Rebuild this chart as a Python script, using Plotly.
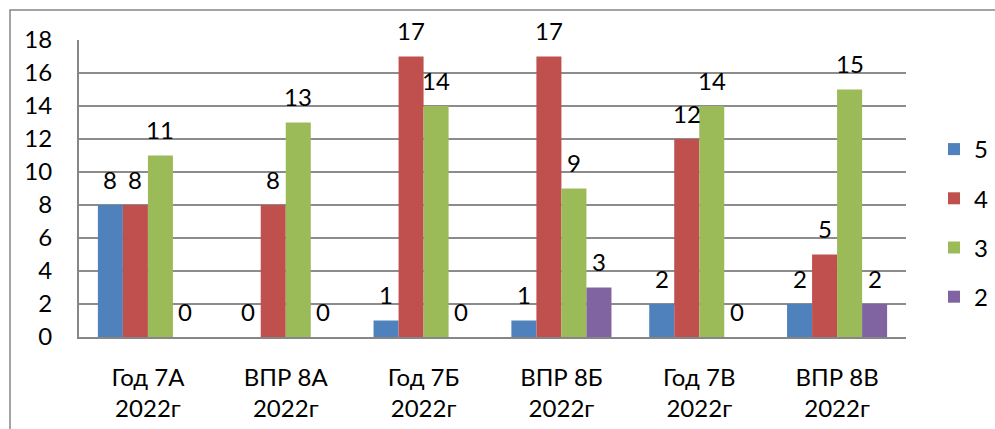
import plotly.graph_objects as go

categories = ["Год 7А<br>2022г", "ВПР 8А<br>2022г", "Год 7Б<br>2022г",
              "ВПР 8Б<br>2022г", "Год 7В<br>2022г", "ВПР 8В<br>2022г"]
series_names = ["5", "4", "3", "2"]
grade_5 = [8, 0, 1, 1, 2, 2]
grade_4 = [8, 8, 17, 17, 12, 5]
grade_3 = [11, 13, 14, 9, 14, 15]
grade_2 = [0, 0, 0, 3, 0, 2]
y_ticks = [0, 2, 4, 6, 8, 10, 12, 14, 16, 18]

colors = ["#4F81BD", "#C0504D", "#9BBB59", "#8064A2"]
FONT = "Lato, 'Open Sans', sans-serif"
FS = 24

W, H = 995, 429
ml, mr, mt, mb = 79, 89, 40, 92
plot_w = W - ml - mr
plot_h = H - mt - mb
bargap = 0.274

fig = go.Figure()
all_series = [grade_5, grade_4, grade_3, grade_2]
for i, (name, vals) in enumerate(zip(series_names, all_series)):
    fig.add_trace(go.Bar(
        x=categories, y=vals, name=name,
        marker=dict(color=colors[i], line=dict(width=0)),
        legendgroup=name,
    ))

# data labels above each bar
cat_w = plot_w / len(categories)
bar_w = cat_w * (1 - bargap) / len(all_series)
for i, vals in enumerate(all_series):
    offset = (i - (len(all_series) - 1) / 2) * bar_w
    for c, v in zip(categories, vals):
        fig.add_annotation(x=c, y=v, text=str(v), showarrow=False,
                           xshift=offset, yshift=26,
                           font=dict(family=FONT, size=FS, color="#000000"))

# outer chart border (runs off the picture to the right and bottom)
fig.add_shape(type="rect", xref="paper", yref="paper",
              x0=(10 - ml) / plot_w, x1=(W + 20 - ml) / plot_w,
              y0=-(H + 20 - mt - plot_h) / plot_h, y1=(plot_h + mt - 10) / plot_h,
              line=dict(color="#868686", width=1.5), fillcolor="rgba(0,0,0,0)")

fig.update_layout(
    width=W, height=H,
    margin=dict(l=ml, r=mr, t=mt, b=mb, autoexpand=False),
    barmode="group", bargap=bargap, bargroupgap=0,
    plot_bgcolor="#FFFFFF", paper_bgcolor="#FFFFFF",
    font=dict(family=FONT, size=FS, color="#000000"),
    showlegend=True,
    legend=dict(x=(934 - ml) / plot_w, xanchor="left",
                y=(337 - 223) / plot_h, yanchor="middle",
                font=dict(family=FONT, size=FS), tracegroupgap=15,
                traceorder="grouped", bgcolor="rgba(0,0,0,0)"),
    xaxis=dict(showgrid=False, showline=True, linecolor="#868686", linewidth=2,
               ticks="", ticklabelstandoff=18, tickfont=dict(size=FS),
               automargin=False),
    yaxis=dict(range=[0, 18], tickvals=y_ticks, showgrid=True,
               gridcolor="#8C8C8C", gridwidth=2, showline=True,
               linecolor="#868686", linewidth=2, zeroline=False,
               ticks="", ticklabelstandoff=20, tickfont=dict(size=FS),
               automargin=False),
)

# drop the browser's default page margin so the chart sits at (0, 0)
fig.write_html("out.html", config={"displayModeBar": False},
               post_script="document.body.style.margin='0';")
